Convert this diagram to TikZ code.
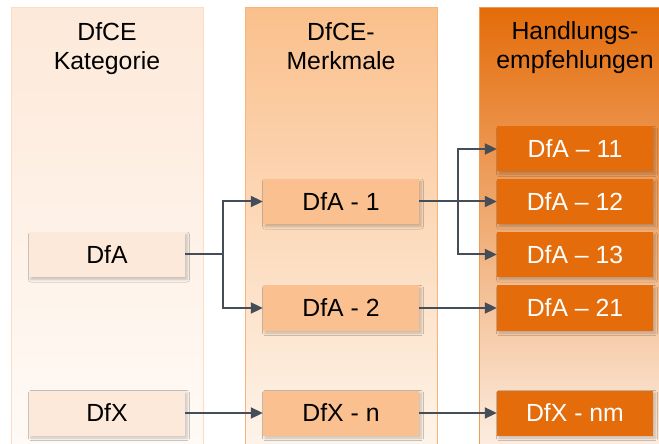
\documentclass[tikz,border=0pt]{standalone}
\usepackage{fontspec}
\setmainfont{Liberation Sans}
\usetikzlibrary{arrows.meta,shadows.blur}
\definecolor{cOneBox}{HTML}{FDE9D9}
\definecolor{cOneTop}{HTML}{FDE9D9}
\definecolor{cOneBot}{HTML}{FFFAF6}
\definecolor{cOneLine}{HTML}{FCDCC2}
\definecolor{cTwoBox}{HTML}{FAC090}
\definecolor{cTwoTop}{HTML}{FAC08C}
\definecolor{cTwoBot}{HTML}{FEF4EA}
\definecolor{cTwoLine}{HTML}{F8B27A}
\definecolor{cThrBox}{HTML}{E46C0A}
\definecolor{cThrTop}{HTML}{E46C0A}
\definecolor{cThrBot}{HTML}{FCEEE2}
\definecolor{cThrLine}{HTML}{EE9A50}
\definecolor{arrcol}{HTML}{454D58}
\tikzset{
  txt/.style={font=\fontsize{24.8bp}{29bp}\selectfont},
  hdr/.style={txt, anchor=base, inner sep=0pt, text=black},
  box/.style={txt, minimum width=156bp, minimum height=45bp, inner sep=0pt,
    blur shadow={shadow xshift=2bp, shadow yshift=-2.5bp, shadow blur steps=6, shadow opacity=22, shadow blur radius=2.5bp}},
  boxone/.style={box, fill=cOneBox, text=black},
  boxtwo/.style={box, fill=cTwoBox, text=black},
  boxthr/.style={box, fill=cThrBox, text=white},
  arr/.style={draw=arrcol, line width=2bp, -{Triangle[length=12bp,width=11bp]}},
  lin/.style={draw=arrcol, line width=2bp}
}
\begin{document}
\begin{tikzpicture}[x=1bp,y=-1bp]
\useasboundingbox (0,0) rectangle (659,444);
\fill[white] (0,0) rectangle (659,444);
% column backgrounds
\path[top color=cOneTop, bottom color=cOneBot, draw=cOneLine, line width=1bp] (11,8) rectangle (203,448);
\path[top color=cTwoTop, bottom color=cTwoBot, draw=cTwoLine, line width=1bp] (245,8) rectangle (437,448);
\path[top color=cThrTop, bottom color=cThrBot, draw=cThrLine, line width=1bp] (479,8) rectangle (671,448);
% headers
\node[hdr] (h1a) at (107,41) {DfCE};
\node[hdr] (h1b) at (107,70) {Kategorie};
\node[hdr] (h2a) at (341,41) {DfCE-};
\node[hdr] (h2b) at (341,70) {Merkmale};
\node[hdr] (h3a) at (575,40) {Handlungs-};
\node[hdr] (h3b) at (575,69) {empfehlungen};
% boxes
\node[boxone] (dfa) at (107,254.5) {DfA};
\node[boxone] (dfx) at (107,413) {DfX};
\node[boxtwo] (dfa1) at (341,201.5) {DfA - 1};
\node[boxtwo] (dfa2) at (341,308) {DfA - 2};
\node[boxtwo] (dfxn) at (341,413) {DfX - n};
\node[boxthr] (dfa11) at (575,149) {DfA – 11};
\node[boxthr] (dfa12) at (575,201.5) {DfA – 12};
\node[boxthr] (dfa13) at (575,254.5) {DfA – 13};
\node[boxthr] (dfa21) at (575,308) {DfA – 21};
\node[boxthr] (dfxnm) at (575,413) {DfX - nm};
% connectors
\coordinate (j1) at ([xshift=38bp]dfa.east);
\coordinate (j2) at ([xshift=39bp]dfa1.east);
\draw[lin] (dfa.east) -- (j1);
\draw[arr] (j1) |- (dfa1.west);
\draw[arr] (j1) |- (dfa2.west);
\draw[arr] (dfa1.east) -- (dfa12.west);
\draw[arr] (j2) |- (dfa11.west);
\draw[arr] (j2) |- (dfa13.west);
\draw[arr] (dfa2.east) -- (dfa21.west);
\draw[arr] (dfx.east) -- (dfxn.west);
\draw[arr] (dfxn.east) -- (dfxnm.west);
\end{tikzpicture}
\end{document}
